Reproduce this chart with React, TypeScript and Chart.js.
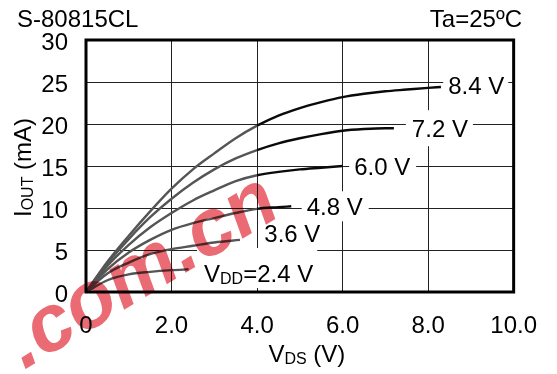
import React, { useEffect, useRef } from 'react';
import { Chart, registerables } from 'chart.js';

Chart.register(...registerables);

const FONT = "'Liberation Sans', Arial, Helvetica, sans-serif";

// ---- data ----
const xTicks = [0, 2, 4, 6, 8, 10];
const yTicks = [0, 5, 10, 15, 20, 25, 30];

const vds84 = [0, 0.5, 1, 1.5, 2, 2.5, 3, 3.5, 4, 4.5, 5, 5.5, 6, 6.5, 7, 7.5, 8, 8.3];
const iout84 = [0, 3.6, 6.7, 9.6, 12.3, 14.6, 16.5, 18.3, 19.8, 21.0, 21.9, 22.6, 23.2, 23.6, 23.9, 24.1, 24.3, 24.4];

const vds72 = [0, 0.5, 1, 1.5, 2, 2.5, 3, 3.5, 4, 4.5, 5, 5.5, 6, 6.5, 7, 7.2];
const iout72 = [0, 3.4, 6.3, 8.9, 11.1, 13.0, 14.6, 15.9, 16.9, 17.7, 18.3, 18.8, 19.2, 19.4, 19.5, 19.5];

const vds60 = [0, 0.5, 1, 1.5, 2, 2.5, 3, 3.5, 4, 4.5, 5, 5.5, 6];
const iout60 = [0, 3.1, 5.6, 7.7, 9.4, 10.9, 12.1, 13.2, 13.9, 14.3, 14.6, 14.8, 15.0];

const vds48 = [0, 0.5, 1, 1.5, 2, 2.5, 3, 3.5, 4, 4.5, 4.8];
const iout48 = [0, 2.7, 4.7, 6.2, 7.4, 8.2, 8.8, 9.4, 9.9, 10.1, 10.2];

const vds36 = [0, 0.5, 1, 1.5, 2, 2.5, 3, 3.6];
const iout36 = [0, 2.2, 3.5, 4.5, 5.1, 5.5, 5.9, 6.2];

const vds24 = [0, 0.5, 1, 1.5, 2, 2.4];
const iout24 = [0, 1.4, 2.1, 2.4, 2.6, 2.7];

const seriesX = [vds84, vds72, vds60, vds48, vds36, vds24];
const seriesY = [iout84, iout72, iout60, iout48, iout36, iout24];
const seriesNames = ['8.4 V', '7.2 V', '6.0 V', '4.8 V', '3.6 V', '2.4 V'];

// curve labels: anchor in data units (left edge of text, vertical centre)
type Part = { t: string; sub?: boolean };
const curveLabels: { parts: Part[]; x: number; y: number; box: number[] }[] = [
  { parts: [{ t: '8.4 V' }], x: 8.47, y: 24.6, box: [5, 4, 14, 14] },
  { parts: [{ t: '7.2 V' }], x: 7.62, y: 19.5, box: [6, 5, 18, 18] },
  { parts: [{ t: '6.0 V' }], x: 6.27, y: 14.9, box: [5, 6, 14, 14] },
  { parts: [{ t: '4.8 V' }], x: 5.16, y: 10.2, box: [5, 6, 15, 15] },
  { parts: [{ t: '3.6 V' }], x: 4.17, y: 7.0, box: [4, 4, 13, 13] },
  { parts: [{ t: 'V' }, { t: 'DD', sub: true }, { t: '=2.4 V' }], x: 2.76, y: 2.26, box: [7, 4, 25, 15] },
];

const BIG = 24;
const SMALL = 16;

function drawParts(ctx: CanvasRenderingContext2D, parts: Part[], x0: number, baseline: number) {
  let x = x0;
  for (const p of parts) {
    ctx.font = `${p.sub ? SMALL : BIG}px ${FONT}`;
    ctx.fillText(p.t, x, baseline + (p.sub ? 2 : 0));
    x += ctx.measureText(p.t).width;
  }
  return x - x0;
}

function measureParts(ctx: CanvasRenderingContext2D, parts: Part[]) {
  let w = 0;
  for (const p of parts) {
    ctx.font = `${p.sub ? SMALL : BIG}px ${FONT}`;
    w += ctx.measureText(p.t).width;
  }
  return w;
}

const decor = {
  id: 'decor',
  afterDatasetsDraw(chart: any) {
    const { ctx, chartArea: a, scales } = chart;
    const xs = scales.x;
    const ys = scales.y;
    ctx.save();
    ctx.textAlign = 'left';
    ctx.textBaseline = 'alphabetic';
    for (const lab of curveLabels) {
      const left = xs.getPixelForValue(lab.x);
      const cy = ys.getPixelForValue(lab.y);
      const w = measureParts(ctx, lab.parts);
      const [pl, pr, pt, pb] = lab.box;
      ctx.fillStyle = '#fff';
      ctx.fillRect(left - pl, cy - pt, w + pl + pr, pt + pb);
      ctx.fillStyle = '#000';
      drawParts(ctx, lab.parts, left, cy + 8.6);
    }
    ctx.strokeStyle = '#000';
    ctx.lineWidth = 3;
    ctx.strokeRect(a.left, a.top, a.right - a.left, a.bottom - a.top);
    ctx.restore();
  },
  afterDraw(chart: any) {
    const { ctx, chartArea: a } = chart;
    ctx.save();
    ctx.fillStyle = '#000';
    ctx.textBaseline = 'alphabetic';
    ctx.font = `${BIG}px ${FONT}`;
    ctx.textAlign = 'left';
    ctx.fillText('S-80815CL', 17, 27);
    ctx.textAlign = 'right';
    ctx.fillText('Ta=25ºC', 522, 27);
    ctx.textAlign = 'left';

    // x axis title
    const xParts: Part[] = [{ t: 'V' }, { t: 'DS', sub: true }, { t: ' (V)' }];
    const xw = measureParts(ctx, xParts);
    drawParts(ctx, xParts, (a.left + a.right) / 2 + 7 - xw / 2, 362);

    // y axis title
    const yParts: Part[] = [{ t: 'I' }, { t: 'OUT', sub: true }, { t: ' (mA)' }];
    ctx.save();
    ctx.translate(30.5, a.bottom - 75);
    ctx.rotate(-Math.PI / 2);
    drawParts(ctx, yParts, 0, 0);
    ctx.restore();

    // watermark
    ctx.save();
    ctx.globalCompositeOperation = 'multiply';
    ctx.translate(24, 370);
    ctx.rotate((-31 * Math.PI) / 180);
    ctx.font = `italic bold 80px ${FONT}`;
    ctx.fillStyle = 'rgba(226,50,62,0.72)';
    ctx.fillText('.com.cn', 0, 0);
    ctx.restore();
    ctx.restore();
  },
};

export default function App() {
  const ref = useRef<HTMLCanvasElement>(null);
  useEffect(() => {
    document.body.style.margin = '0';
    const datasets = seriesX.map((xsArr, k) => ({
      label: seriesNames[k],
      data: xsArr.map((v, i) => ({ x: v, y: seriesY[k][i] })),
      borderColor: '#111',
      borderWidth: 2.4,
      pointRadius: 0,
      fill: false,
      cubicInterpolationMode: 'monotone' as const,
      segment: {
        borderColor: (c: any) => (c.p0.parsed.x < 3.7 ? '#555' : '#0a0a0a'),
      },
    }));
    const chart = new Chart(ref.current!, {
      type: 'line',
      data: { datasets },
      plugins: [decor],
      options: {
        animation: false,
        responsive: false,
        devicePixelRatio: 1,
        layout: { padding: { left: 0, right: 34, top: 40, bottom: 0 } },
        plugins: { legend: { display: false }, tooltip: { enabled: false }, title: { display: false } },
        scales: {
          x: {
            type: 'linear',
            min: 0,
            max: 10,
            afterFit: (s: any) => { s.height = 82; },
            afterBuildTicks: (s: any) => { s.ticks = xTicks.map((v) => ({ value: v })); },
            ticks: {
              padding: 20,
              color: '#000',
              font: { family: FONT, size: BIG },
              maxRotation: 0,
              callback: (v: any) => (Number(v) === 0 ? '0' : Number(v).toFixed(1)),
            },
            grid: { color: '#222', lineWidth: 1, drawTicks: false },
            border: { display: false },
          },
          y: {
            type: 'linear',
            min: 0,
            max: 30,
            afterFit: (s: any) => { s.width = 86; },
            afterBuildTicks: (s: any) => { s.ticks = yTicks.map((v) => ({ value: v })); },
            ticks: {
              padding: 18,
              labelOffset: 3.5,
              color: '#000',
              font: { family: FONT, size: BIG },
              callback: (v: any) => String(v),
            },
            grid: { color: '#222', lineWidth: 1, drawTicks: false },
            border: { display: false },
          },
        },
      },
    });
    return () => chart.destroy();
  }, []);
  return (
    <div style={{ position: 'absolute', left: 0, top: 0, width: 557, height: 374, background: '#fff' }}>
      <canvas ref={ref} width={557} height={374} style={{ display: 'block', width: 557, height: 374 }} />
    </div>
  );
}
